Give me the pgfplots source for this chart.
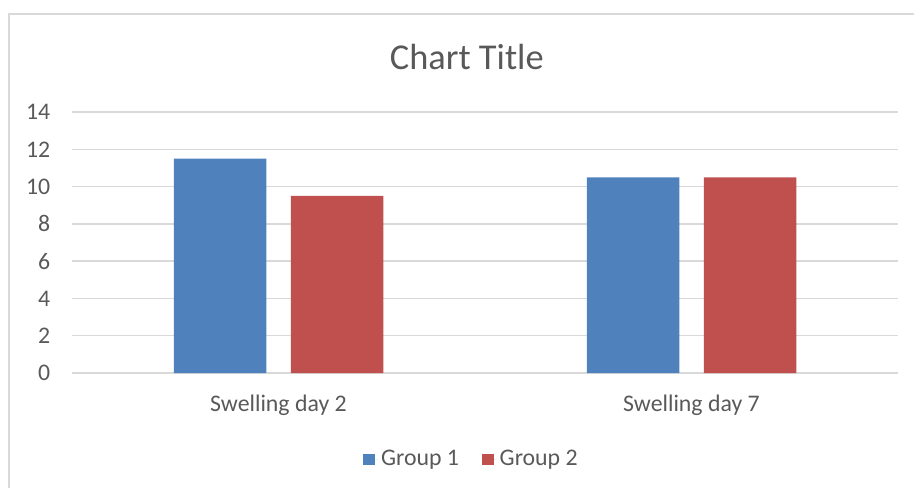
\documentclass[border=0pt]{standalone}
\usepackage{fontspec}
\setmainfont{Carlito}
\usepackage{pgfplots}
\pgfplotsset{compat=1.18}
\definecolor{gblue}{HTML}{4F81BD}
\definecolor{gred}{HTML}{C0504D}
\definecolor{gtext}{HTML}{595959}
\definecolor{ggrid}{HTML}{D9D9D9}
\begin{document}
\begin{tikzpicture}[x=1pt,y=1pt]
\path[use as bounding box] (0,0) rectangle (457,244);
\draw[ggrid,line width=0.6pt] (4.5,0) -- (4.5,237) -- (457,237);
\begin{axis}[
  at={(36pt,57.5pt)}, anchor=south west,
  scale only axis, width=413pt, height=130.5pt,
  xmin=-0.5, xmax=1.5, ymin=0, ymax=14,
  ytick={0,2,...,14},
  xtick={0,1}, xticklabels={Swelling day 2, Swelling day 7},
  major tick length=0pt,
  axis y line*=left,
  y axis line style={draw=none},
  axis x line*=bottom,
  x axis line style={ggrid, line width=0.7pt, -},
  ymajorgrids, grid style={ggrid, line width=0.7pt},
  /pgf/number format/assume math mode=true,
  tick label style={font=\fontsize{11.9}{14}\selectfont, text=gtext},
  yticklabel style={xshift=-7.4pt},
  xticklabel style={yshift=-7.5pt},
  ybar, bar width=46.25pt,
  title={Chart Title},
  title style={font=\fontsize{18.2}{22}\selectfont, text=gtext, at={(rel axis cs:0.478,1.165)}, anchor=center},
  legend columns=2,
  legend style={at={(rel axis cs:0.4843,-0.3315)}, anchor=center, draw=none, fill=none,
    font=\fontsize{11.9}{14}\selectfont, text=gtext,
    /tikz/every even column/.append style={column sep=10pt},
    nodes={inner sep=1.5pt}},
  legend image code/.code={\fill[#1] (0pt,-2.9pt) rectangle (5.85pt,2.9pt); \path (5.85pt,0pt) -- (7.35pt,0pt);},
]
\addplot[fill=gblue, draw=none, bar shift=-29.25pt] coordinates {(0,11.5) (1,10.5)};
\addplot[fill=gred, draw=none, bar shift=29.25pt] coordinates {(0,9.5) (1,10.5)};
\legend{Group 1, Group 2}
\end{axis}
\end{tikzpicture}
\end{document}
